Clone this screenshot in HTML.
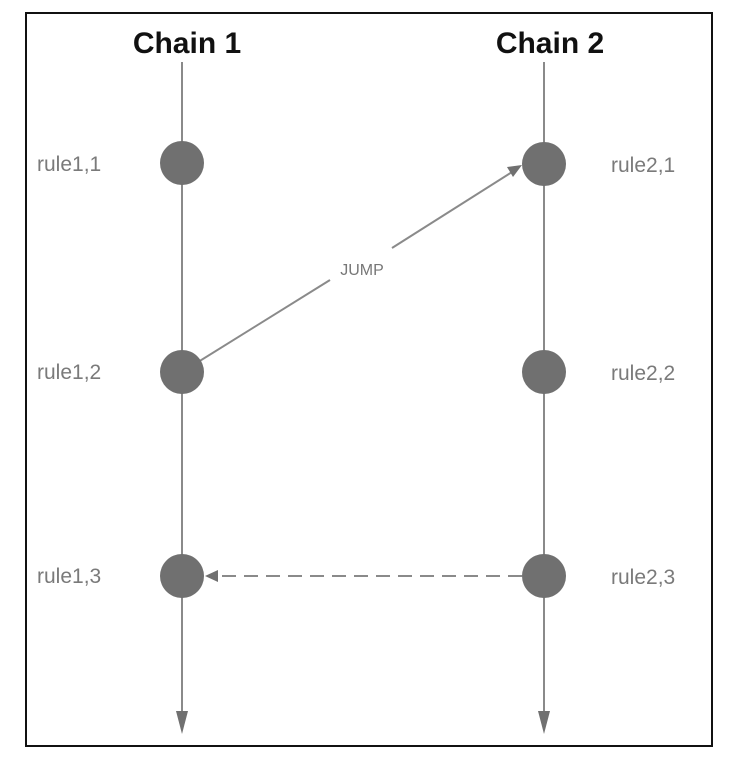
<!DOCTYPE html>
<html><head><style>
html,body{margin:0;padding:0;background:#fff;}
</style></head><body>
<svg width="734" height="764" xmlns="http://www.w3.org/2000/svg" style="display:block">
<rect x="26" y="13" width="686" height="733" fill="#fff" stroke="#111" stroke-width="2"/>
<g font-family="Liberation Sans, sans-serif">
<text x="187" y="53" font-size="30" font-weight="bold" text-anchor="middle" fill="#111">Chain 1</text>
<text x="550" y="53" font-size="30" font-weight="bold" text-anchor="middle" fill="#111">Chain 2</text>
<g fill="#7a7a7a" font-size="21">
<text x="37" y="171">rule1,1</text>
<text x="37" y="379">rule1,2</text>
<text x="37" y="583">rule1,3</text>
<text x="611" y="172">rule2,1</text>
<text x="611" y="380">rule2,2</text>
<text x="611" y="584">rule2,3</text>
</g>
<text x="362" y="275" font-size="16" fill="#777" text-anchor="middle">JUMP</text>
</g>
<g stroke="#8a8a8a" stroke-width="2">
<line x1="182" y1="62" x2="182" y2="715"/>
<line x1="544" y1="62" x2="544" y2="715"/>
<line x1="182" y1="372" x2="330" y2="280"/>
<line x1="392" y1="248" x2="512" y2="172"/>
<line x1="522" y1="576" x2="215" y2="576" stroke-dasharray="14,8"/>
</g>
<g fill="#707070">
<polygon points="176,711 188,711 182,734"/>
<polygon points="538,711 550,711 544,734"/>
<polygon points="522,165 507,167 513,177"/>
<polygon points="205,576 218,570 218,582"/>
<circle cx="182" cy="163" r="22"/>
<circle cx="544" cy="164" r="22"/>
<circle cx="182" cy="372" r="22"/>
<circle cx="544" cy="372" r="22"/>
<circle cx="182" cy="576" r="22"/>
<circle cx="544" cy="576" r="22"/>
</g>
</svg>
</body></html>
